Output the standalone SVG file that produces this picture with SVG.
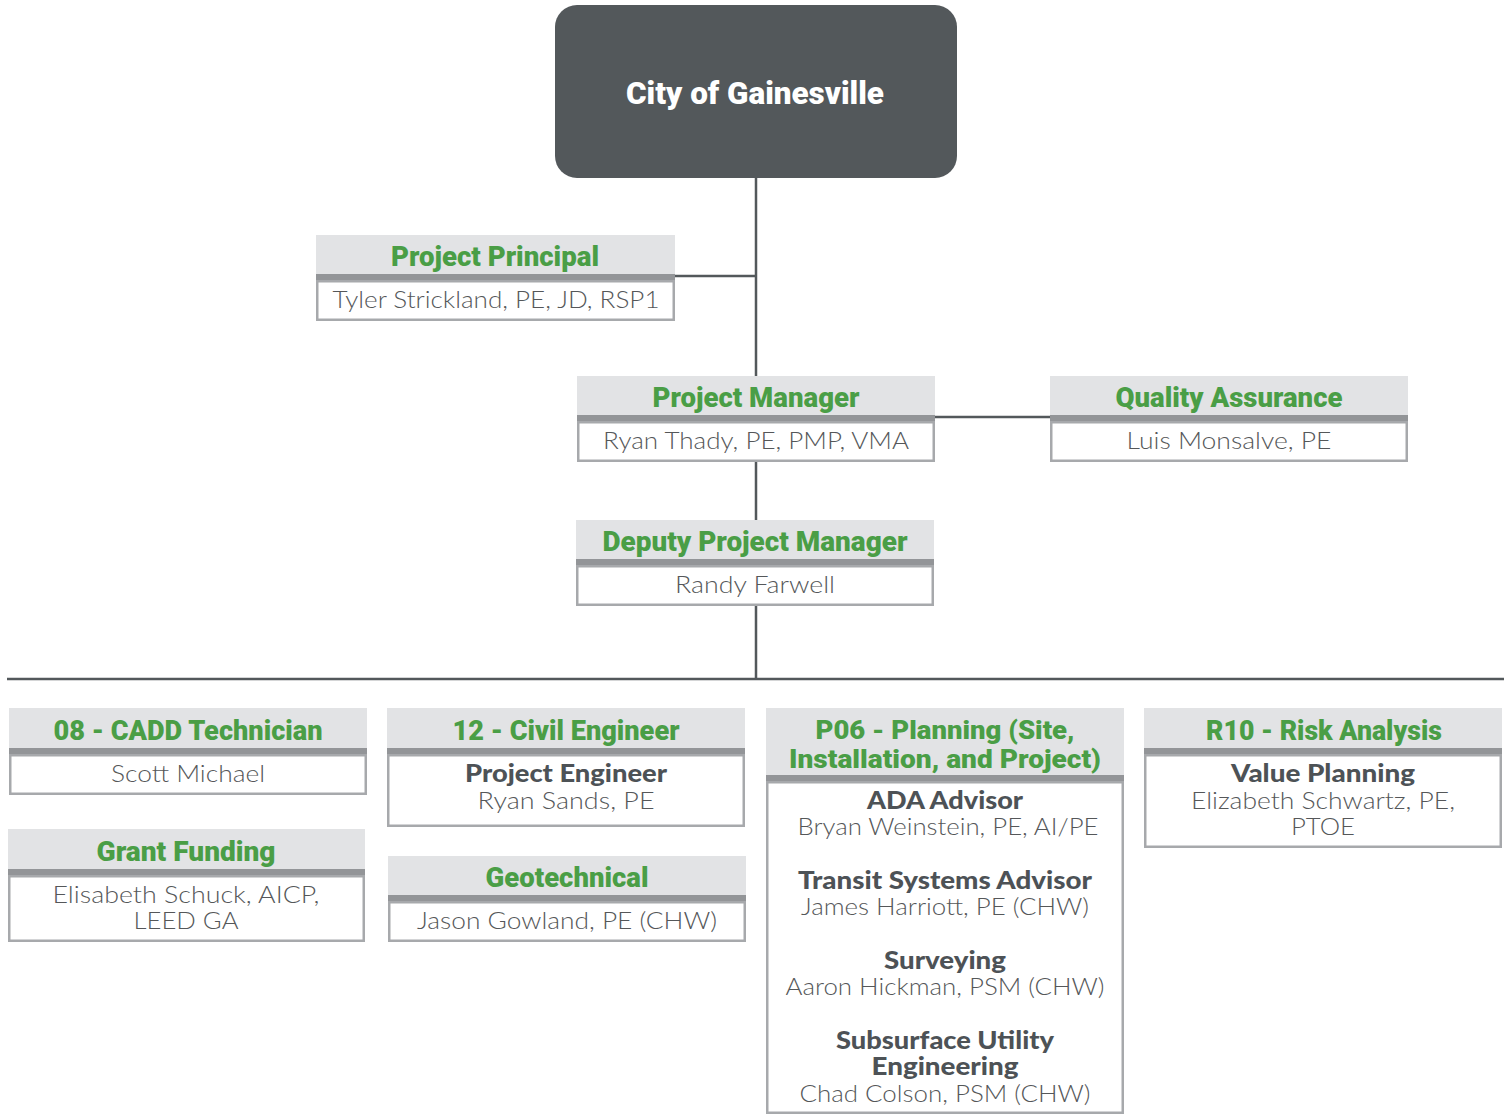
<svg xmlns="http://www.w3.org/2000/svg" width="1511" height="1114" viewBox="0 0 1511 1114">
<style>
.hd{fill:#e2e3e5}
.bar{fill:#939598}
.bx{fill:#fff;stroke:#a7a9ac;stroke-width:2.5}
.tt{font-family:Roboto,"Liberation Sans",sans-serif;font-weight:900;font-size:27px;fill:#4a9e46;text-anchor:middle}
.t2{font-size:25px}
.nm{font-family:Lato,"Liberation Sans",sans-serif;font-weight:300;font-size:24px;fill:#555759;text-anchor:middle}
.sb{font-family:Lato,"Liberation Sans",sans-serif;font-weight:900;font-size:24px;fill:#4d5256;text-anchor:middle}
.cn{stroke:#53585b;stroke-width:2.5;fill:none}
</style>
<rect width="1511" height="1114" fill="#fff"/>
<g id="connectors">
<path class="cn" d="M756 178V679M675 276H756M935 417H1050M7 679H1504"/>
</g>
<g id="city">
<rect x="555" y="5" width="402" height="173" rx="22" fill="#53585b"/>
<text x="755" y="104" font-family="Roboto,'Liberation Sans',sans-serif" font-weight="900" font-size="31" fill="#fff" text-anchor="middle" textLength="258" lengthAdjust="spacingAndGlyphs">City of Gainesville</text>
</g>
<g id="principal">
<rect class="hd" x="316" y="235" width="359" height="40"/>
<rect class="bar" x="316" y="274" width="359" height="8"/>
<rect class="bx" x="317.25" y="281.25" width="356.5" height="38.5"/>
<text class="tt" x="495" y="266" textLength="208" lengthAdjust="spacingAndGlyphs">Project Principal</text>
<text class="nm" x="496" y="308" textLength="327" lengthAdjust="spacingAndGlyphs">Tyler Strickland, PE, JD, RSP1</text>
</g>
<g id="manager">
<rect class="hd" x="577" y="376" width="358" height="40"/>
<rect class="bar" x="577" y="415" width="358" height="8"/>
<rect class="bx" x="578.25" y="422.25" width="355.5" height="38.5"/>
<text class="tt" x="756" y="407" textLength="207" lengthAdjust="spacingAndGlyphs">Project Manager</text>
<text class="nm" x="756" y="449" textLength="306" lengthAdjust="spacingAndGlyphs">Ryan Thady, PE, PMP, VMA</text>
</g>
<g id="qa">
<rect class="hd" x="1050" y="376" width="358" height="40"/>
<rect class="bar" x="1050" y="415" width="358" height="8"/>
<rect class="bx" x="1051.25" y="422.25" width="355.5" height="38.5"/>
<text class="tt" x="1229" y="407" textLength="227" lengthAdjust="spacingAndGlyphs">Quality Assurance</text>
<text class="nm" x="1229" y="449" textLength="205" lengthAdjust="spacingAndGlyphs">Luis Monsalve, PE</text>
</g>
<g id="deputy">
<rect class="hd" x="576" y="520" width="358" height="40"/>
<rect class="bar" x="576" y="559" width="358" height="8"/>
<rect class="bx" x="577.25" y="566.25" width="355.5" height="38.5"/>
<text class="tt" x="755" y="551" textLength="305" lengthAdjust="spacingAndGlyphs">Deputy Project Manager</text>
<text class="nm" x="755" y="593" textLength="160" lengthAdjust="spacingAndGlyphs">Randy Farwell</text>
</g>
<g id="cadd">
<rect class="hd" x="9" y="708" width="358" height="41"/>
<rect class="bar" x="9" y="748" width="358" height="8"/>
<rect class="bx" x="10.25" y="755.25" width="355.5" height="38.5"/>
<text class="tt" x="188" y="740" textLength="269" lengthAdjust="spacingAndGlyphs">08 - CADD Technician</text>
<text class="nm" x="188" y="782" textLength="154" lengthAdjust="spacingAndGlyphs">Scott Michael</text>
</g>
<g id="grant">
<rect class="hd" x="8" y="829" width="357" height="41"/>
<rect class="bar" x="8" y="869" width="357" height="8"/>
<rect class="bx" x="9.25" y="876.25" width="354.5" height="64.5"/>
<text class="tt" x="186" y="861" textLength="179" lengthAdjust="spacingAndGlyphs">Grant Funding</text>
<text class="nm" x="186" y="903" textLength="267" lengthAdjust="spacingAndGlyphs">Elisabeth Schuck, AICP,</text>
<text class="nm" x="186" y="929" textLength="105" lengthAdjust="spacingAndGlyphs">LEED GA</text>
</g>
<g id="civil">
<rect class="hd" x="387" y="708" width="358" height="41"/>
<rect class="bar" x="387" y="748" width="358" height="8"/>
<rect class="bx" x="388.25" y="755.25" width="355.5" height="70.5"/>
<text class="tt" x="566" y="740" textLength="227" lengthAdjust="spacingAndGlyphs">12 - Civil Engineer</text>
<text class="sb" x="566" y="782" textLength="202" lengthAdjust="spacingAndGlyphs">Project Engineer</text>
<text class="nm" x="566" y="809" textLength="177" lengthAdjust="spacingAndGlyphs">Ryan Sands, PE</text>
</g>
<g id="geo">
<rect class="hd" x="388" y="856" width="358" height="40"/>
<rect class="bar" x="388" y="895" width="358" height="8"/>
<rect class="bx" x="389.25" y="902.25" width="355.5" height="38.5"/>
<text class="tt" x="567" y="887" textLength="163" lengthAdjust="spacingAndGlyphs">Geotechnical</text>
<text class="nm" x="567" y="929" textLength="300" lengthAdjust="spacingAndGlyphs">Jason Gowland, PE (CHW)</text>
</g>
<g id="planning">
<rect class="hd" x="766" y="708" width="358" height="68"/>
<rect class="bar" x="766" y="775" width="358" height="8"/>
<rect class="bx" x="767.25" y="782.25" width="355.5" height="330.5"/>
<text class="tt t2" x="945" y="739" textLength="259" lengthAdjust="spacingAndGlyphs">P06 - Planning (Site,</text>
<text class="tt t2" x="945" y="768" textLength="312" lengthAdjust="spacingAndGlyphs">Installation, and Project)</text>
<text class="sb" x="945" y="809" textLength="156" lengthAdjust="spacingAndGlyphs">ADA Advisor</text>
<text class="nm" x="948" y="835" textLength="301" lengthAdjust="spacingAndGlyphs">Bryan Weinstein, PE, AI/PE</text>
<text class="sb" x="945" y="889" textLength="294" lengthAdjust="spacingAndGlyphs">Transit Systems Advisor</text>
<text class="nm" x="945" y="915" textLength="288" lengthAdjust="spacingAndGlyphs">James Harriott, PE (CHW)</text>
<text class="sb" x="945" y="969" textLength="122" lengthAdjust="spacingAndGlyphs">Surveying</text>
<text class="nm" x="945" y="995" textLength="319" lengthAdjust="spacingAndGlyphs">Aaron Hickman, PSM (CHW)</text>
<text class="sb" x="945" y="1049" textLength="218" lengthAdjust="spacingAndGlyphs">Subsurface Utility</text>
<text class="sb" x="945" y="1075" textLength="147" lengthAdjust="spacingAndGlyphs">Engineering</text>
<text class="nm" x="945" y="1102" textLength="291" lengthAdjust="spacingAndGlyphs">Chad Colson, PSM (CHW)</text>
</g>
<g id="risk">
<rect class="hd" x="1144" y="708" width="358" height="41"/>
<rect class="bar" x="1144" y="748" width="358" height="8"/>
<rect class="bx" x="1145.25" y="755.25" width="355.5" height="91.5"/>
<text class="tt" x="1324" y="740" textLength="236" lengthAdjust="spacingAndGlyphs">R10 - Risk Analysis</text>
<text class="sb" x="1323" y="782" textLength="184" lengthAdjust="spacingAndGlyphs">Value Planning</text>
<text class="nm" x="1323" y="809" textLength="264" lengthAdjust="spacingAndGlyphs">Elizabeth Schwartz, PE,</text>
<text class="nm" x="1323" y="835" textLength="64" lengthAdjust="spacingAndGlyphs">PTOE</text>
</g>
</svg>
